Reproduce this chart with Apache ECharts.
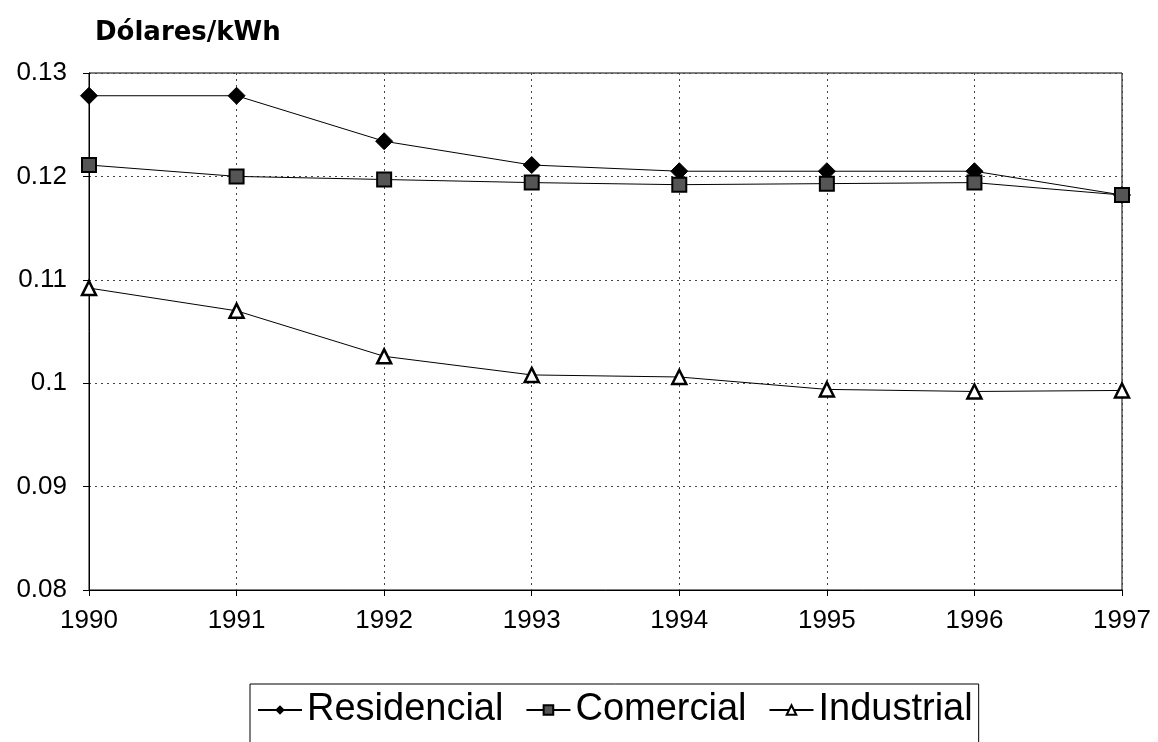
<!DOCTYPE html>
<html><head><meta charset="utf-8">
<script src="https://cdn.jsdelivr.net/npm/echarts@6/dist/echarts.min.js"></script>
<style>html,body{margin:0;padding:0;background:#fff}#c{width:1158px;height:742px}</style>
</head><body><div id="c"></div>
<script>
const years = ['1990','1991','1992','1993','1994','1995','1996','1997'];
const residencial = [0.1278, 0.1278, 0.1234, 0.1211, 0.1205, 0.1205, 0.1205, 0.1182];
const comercial = [0.1211, 0.1200, 0.1197, 0.1194, 0.1192, 0.1193, 0.1194, 0.1182];
const industrial = [0.1092, 0.1070, 0.1026, 0.1008, 0.1006, 0.0994, 0.0992, 0.0993];
const yTicks = ['0.08','0.09','0.1','0.11','0.12','0.13'];

const font = 'Liberation Sans, Arial, sans-serif';
const chart = echarts.init(document.getElementById('c'));
const lineStyle = {color:'#000', width:1};
chart.setOption({
  animation:false,
  backgroundColor:'#fff',
  title:{text:'Dólares/kWh', left:90, top:15, textStyle:{fontFamily:'DejaVu Sans', fontSize:26, fontWeight:'bold', color:'#000'}},
  grid:{left:89, right:36, top:73, bottom:152, show:true, borderColor:'#000', borderWidth:1, backgroundColor:'transparent'},
  legend:{
    data:['Residencial','Comercial','Industrial'],
    left:250, top:684,
    orient:'horizontal',
    borderColor:'#000', borderWidth:1,
    padding:[7,6,40,7],
    itemGap:22,
    itemWidth:44, itemHeight:12,
    textStyle:{fontFamily:font, fontSize:38, color:'#000'}
  },
  xAxis:{
    type:'category', data:years, boundaryGap:false,
    axisLine:{lineStyle:{color:'#000', width:1}},
    axisTick:{show:true, inside:false, length:6, lineStyle:{color:'#000'}},
    axisLabel:{fontFamily:font, fontSize:26, color:'#000', margin:18},
    splitLine:{show:true, lineStyle:{color:'#444', type:[2,4], width:1}}
  },
  yAxis:{
    type:'value', min:0.08, max:0.13, interval:0.01,
    axisLine:{show:true, lineStyle:{color:'#000', width:1}},
    axisTick:{show:true, length:6, lineStyle:{color:'#000'}},
    axisLabel:{fontFamily:font, fontSize:26, color:'#000', margin:22,
      formatter:function(v){ const i=Math.round((v-0.08)/0.01); return yTicks[i]; }},
    splitLine:{show:true, lineStyle:{color:'#444', type:[2,4], width:1}}
  },
  series:[
    {name:'Residencial', type:'line', data:residencial, symbol:'diamond', symbolSize:17,
      itemStyle:{color:'#000', borderColor:'#000'}, lineStyle:lineStyle, z:3},
    {name:'Comercial', type:'line', data:comercial, symbol:'rect', symbolSize:14,
      itemStyle:{color:'#555', borderColor:'#000', borderWidth:2}, lineStyle:lineStyle, z:4},
    {name:'Industrial', type:'line', data:industrial, symbol:'triangle', symbolSize:14,
      itemStyle:{color:'#fff', borderColor:'#000', borderWidth:2.5}, lineStyle:lineStyle, z:5}
  ]
});
</script></body></html>
